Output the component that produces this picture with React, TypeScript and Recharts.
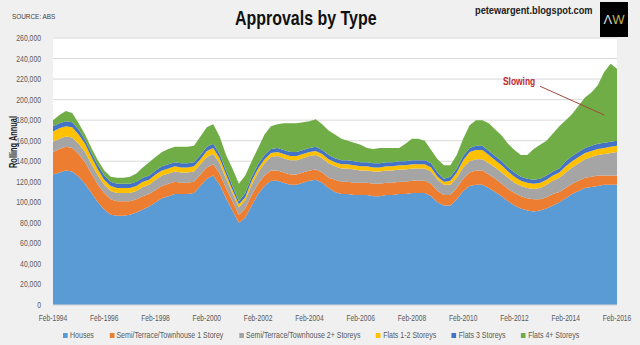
import React from 'react';
import { AreaChart, Area, XAxis, YAxis, CartesianGrid, ReferenceLine } from 'recharts';

// quarterly readings, thousands of approvals (rolling annual)
const HOUSES = [
  127, 129, 131, 130, 125, 118, 109, 100, 93, 88, 87, 87,
  88, 90, 93, 96, 100, 104, 106, 108, 108, 108, 109, 116,
  123, 126, 117, 104, 92, 80, 85, 97, 108, 116, 121, 121,
  119, 117, 117, 119, 121, 122, 119, 114, 110, 108, 108, 107,
  107, 107, 106, 106, 107, 107, 108, 108, 109, 109, 109, 106,
  100, 97, 97, 103, 111, 116, 117, 117, 114, 110, 106, 101,
  97, 94, 92, 91, 92, 94, 97, 100, 104, 108, 111, 114,
  115, 116, 117, 117, 117,
];
const SEMI_1 = [
  22, 23, 23, 23, 22, 21, 19, 17, 16, 15, 14, 14,
  13, 13, 13, 12, 12, 12, 12, 12, 11, 11, 11, 11,
  11, 11, 11, 10, 9, 8, 9, 10, 10, 10, 10, 10,
  10, 10, 10, 10, 10, 10, 10, 10, 12, 12, 12, 12,
  12, 12, 12, 12, 12, 12, 12, 12, 12, 12, 12, 12,
  11, 10, 10, 11, 12, 13, 14, 14, 13, 13, 12, 12,
  12, 12, 12, 12, 11, 11, 11, 10, 10, 10, 10, 10,
  10, 10, 9, 9, 9,
];
const SEMI_2 = [
  10, 10, 10, 10, 10, 10, 9, 9, 8, 8, 8, 8,
  8, 8, 9, 9, 10, 10, 10, 10, 10, 10, 10, 10,
  10, 10, 10, 9, 8, 7, 8, 10, 11, 12, 13, 14,
  14, 14, 14, 14, 14, 14, 14, 14, 13, 13, 13, 13,
  12, 12, 12, 12, 12, 12, 12, 12, 12, 12, 12, 12,
  11, 10, 10, 10, 11, 11, 11, 11, 11, 11, 11, 11,
  10, 10, 10, 10, 11, 12, 13, 14, 15, 16, 17, 18,
  19, 20, 21, 22, 23,
];
const FLATS_12 = [
  10, 10, 10, 10, 9, 8, 7, 6, 5, 5, 5, 5,
  5, 5, 5, 5, 5, 5, 5, 5, 5, 5, 5, 5,
  6, 6, 5, 4, 3, 3, 3, 4, 4, 4, 4, 4,
  4, 4, 4, 4, 4, 4, 4, 4, 4, 4, 4, 4,
  4, 4, 4, 4, 4, 4, 4, 4, 4, 4, 4, 4,
  3, 3, 4, 5, 7, 9, 9, 9, 8, 7, 7, 6,
  6, 5, 5, 5, 5, 5, 5, 5, 6, 6, 6, 6,
  6, 6, 6, 6, 6,
];
const FLATS_3 = [
  5, 5, 5, 5, 5, 4, 4, 4, 4, 4, 4, 4,
  4, 4, 4, 4, 4, 4, 4, 4, 4, 4, 4, 4,
  4, 4, 4, 4, 4, 3, 4, 4, 4, 4, 4, 4,
  4, 4, 4, 4, 4, 4, 4, 4, 4, 4, 4, 4,
  4, 4, 4, 4, 4, 4, 4, 4, 4, 4, 4, 4,
  4, 3, 4, 4, 4, 4, 4, 4, 4, 4, 4, 4,
  4, 4, 4, 4, 4, 4, 4, 4, 5, 5, 5, 5,
  5, 5, 5, 5, 5,
];
const FLATS_4 = [
  6, 8, 10, 9, 6, 5, 5, 5, 5, 5, 6, 6,
  7, 8, 10, 13, 13, 14, 15, 15, 16, 16, 16, 18,
  19, 19, 17, 15, 17, 17, 17, 15, 16, 20, 22, 23,
  26, 28, 28, 27, 26, 27, 25, 24, 23, 21, 19, 18,
  17, 14, 14, 15, 14, 14, 13, 17, 21, 21, 19, 13,
  13, 13, 11, 13, 17, 22, 25, 25, 27, 26, 25, 23,
  22, 21, 23, 30, 33, 34, 37, 41, 40, 41, 45, 49,
  52, 57, 69, 76, 70,
];

const MONTHS = ['Feb', 'May', 'Aug', 'Nov'];
const QUARTERS: string[] = [];
for (let y = 1994; y <= 2016; y++) {
  for (const m of MONTHS) {
    if (y === 2016 && m !== 'Feb') break;
    QUARTERS.push(`${m}-${y}`);
  }
}

const Y_TICKS = [0, 20000, 40000, 60000, 80000, 100000, 120000, 140000, 160000, 180000, 200000, 220000, 240000, 260000];

const SERIES = [
  { key: 'houses', name: 'Houses', color: '#5b9bd5', values: HOUSES },
  { key: 'semi1', name: 'Semi/Terrace/Townhouse 1 Storey', color: '#ed7d31', values: SEMI_1 },
  { key: 'semi2', name: 'Semi/Terrace/Townhouse 2+ Storeys', color: '#a5a5a5', values: SEMI_2 },
  { key: 'flats12', name: 'Flats 1-2 Storeys', color: '#ffc000', values: FLATS_12 },
  { key: 'flats3', name: 'Flats 3 Storeys', color: '#4472c4', values: FLATS_3 },
  { key: 'flats4', name: 'Flats 4+ Storeys', color: '#70ad47', values: FLATS_4 },
];

const data = QUARTERS.map((q, i) => {
  const row: Record<string, string | number> = { q };
  SERIES.forEach(s => { row[s.key] = s.values[i] * 1000; });
  return row;
});

const FONT = "'Liberation Sans', Arial, sans-serif";

// ticks are squeezed horizontally, the source uses a narrow face
function YTick({ x, y, payload }: any) {
  return (
    <g transform={`translate(${x},${y})`}>
      <text transform="scale(0.76,1)" textAnchor="end" dy={3} fontSize={9} fill="#595959" fontFamily={FONT}>
        {Number(payload.value).toLocaleString('en-US')}
      </text>
    </g>
  );
}

function XTick({ x, y, payload }: any) {
  return (
    <g transform={`translate(${x},${y})`}>
      <text transform="scale(0.74,1)" textAnchor="middle" dy={7} fontSize={9} fill="#595959" fontFamily={FONT}>
        {payload.value}
      </text>
    </g>
  );
}

export default function App() {
  return (
    <div style={{ position: 'absolute', left: 0, top: 0, width: 640, height: 345, background: '#f0f0f0', fontFamily: FONT, overflow: 'hidden' }}>
      <AreaChart width={640} height={345} data={data} margin={{ top: 38, right: 23, bottom: 24, left: 6 }}>
        <CartesianGrid vertical={false} stroke="#d9d9d9" fill="#ffffff" />
        <XAxis dataKey="q" interval={7} tick={<XTick />} tickLine={false} axisLine={{ stroke: '#d9d9d9' }} height={16} tickMargin={3} />
        <YAxis domain={[0, 260000]} ticks={Y_TICKS} interval={0} tick={<YTick />} axisLine={false} tickLine={false} width={47} tickMargin={6} />
        {SERIES.map(s => (
          <Area key={s.key} dataKey={s.key} name={s.name} stackId="1" type="linear"
            fill={s.color} fillOpacity={1} stroke="none" isAnimationActive={false} />
        ))}
        <ReferenceLine segment={[{ x: 'Feb-2013', y: 213000 }, { x: 'Aug-2015', y: 185000 }]} stroke="#a0473a" strokeWidth={1} />
      </AreaChart>

      <div style={{ position: 'absolute', left: 12, top: 12, fontSize: 8, color: '#404040', whiteSpace: 'nowrap', transform: 'scaleX(0.8)', transformOrigin: 'left' }}>SOURCE: ABS</div>
      <div style={{ position: 'absolute', left: 235, top: 6, fontSize: 21, fontWeight: 'bold', color: '#111', whiteSpace: 'nowrap', transform: 'scaleX(0.76)', transformOrigin: 'left' }}>Approvals by Type</div>
      <div style={{ position: 'absolute', left: 475, top: 4, fontSize: 11, fontWeight: 'bold', color: '#222', whiteSpace: 'nowrap', transform: 'scaleX(0.84)', transformOrigin: 'left' }}>petewargent.blogspot.com</div>
      <div style={{ position: 'absolute', left: 600, top: 2, width: 28, height: 35, background: '#000', display: 'flex', alignItems: 'center', justifyContent: 'center', fontSize: 13, lineHeight: 1 }}>
        <span style={{ color: '#ddd' }}>Λ</span><span style={{ color: '#c9b458' }}>W</span>
      </div>
      <div style={{ position: 'absolute', left: 13, top: 142, transform: 'translate(-50%, -50%) rotate(-90deg) scaleX(0.74)', fontSize: 10, fontWeight: 'bold', color: '#222', whiteSpace: 'nowrap' }}>Rolling Annual</div>
      <div style={{ position: 'absolute', left: 503, top: 76, fontSize: 10, fontWeight: 'bold', color: '#c0262d', whiteSpace: 'nowrap', transform: 'scaleX(0.84)', transformOrigin: 'left' }}>Slowing</div>

      <div style={{ position: 'absolute', left: 63, top: 330, display: 'flex', gap: 20, fontSize: 9, color: '#595959', whiteSpace: 'nowrap', transform: 'scaleX(0.78)', transformOrigin: 'left' }}>
        {SERIES.map(s => (
          <div key={s.key} style={{ display: 'flex', alignItems: 'center', gap: 3 }}>
            <span style={{ width: 6, height: 5, background: s.color, display: 'inline-block' }} />
            <span>{s.name}</span>
          </div>
        ))}
      </div>
    </div>
  );
}
